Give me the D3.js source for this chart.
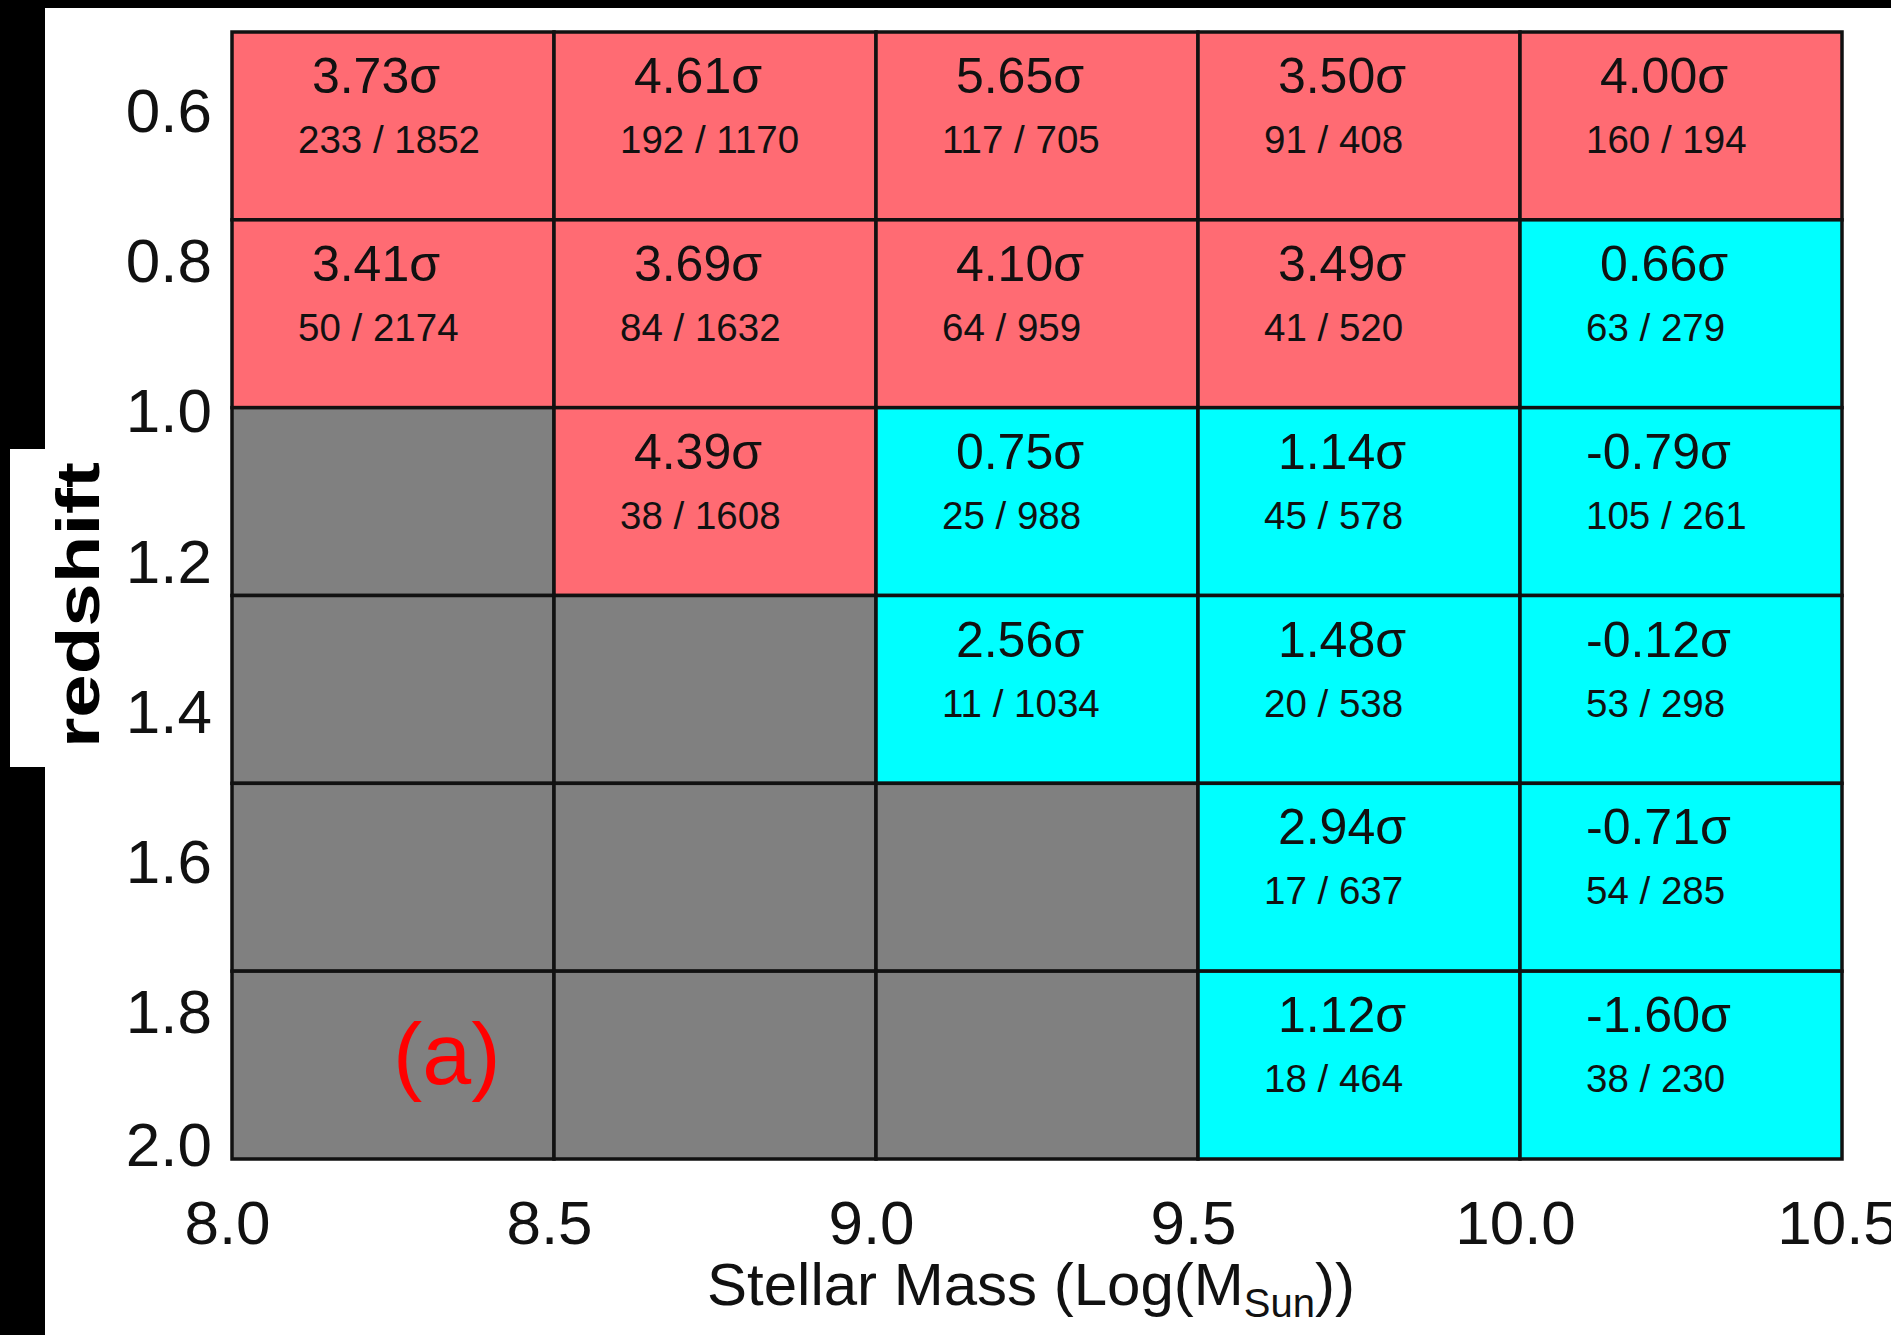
<!DOCTYPE html>
<html>
<head>
<meta charset="utf-8">
<script src="https://cdn.jsdelivr.net/npm/d3@7"></script>
<style>
  html, body { margin: 0; padding: 0; background: #fff; }
  svg { display: block; font-family: "Liberation Sans", Arial, Helvetica, sans-serif; }
</style>
</head>
<body>
<svg id="chart" width="1891" height="1335"></svg>
<script>
// ---- data ----
const massEdges = [8.0, 8.5, 9.0, 9.5, 10.0, 10.5];
const zEdges = [0.5, 0.75, 1.0, 1.25, 1.5, 1.75, 2.0];
const sigma = [
  [3.73, 4.61, 5.65, 3.50, 4.00],
  [3.41, 3.69, 4.10, 3.49, 0.66],
  [null, 4.39, 0.75, 1.14, -0.79],
  [null, null, 2.56, 1.48, -0.12],
  [null, null, null, 2.94, -0.71],
  [null, null, null, 1.12, -1.60]
];
const nSel = [
  [233, 192, 117, 91, 160],
  [50, 84, 64, 41, 63],
  [null, 38, 25, 45, 105],
  [null, null, 11, 20, 53],
  [null, null, null, 17, 54],
  [null, null, null, 18, 38]
];
const nTot = [
  [1852, 1170, 705, 408, 194],
  [2174, 1632, 959, 520, 279],
  [null, 1608, 988, 578, 261],
  [null, null, 1034, 538, 298],
  [null, null, null, 637, 285],
  [null, null, null, 464, 230]
];
const xTicks = [8.0, 8.5, 9.0, 9.5, 10.0, 10.5];
const yTicks = [0.6, 0.8, 1.0, 1.2, 1.4, 1.6, 1.8, 2.0];
const threshold = 3.0;
const panelLabel = "(a)";
const xTitle = "Stellar Mass (Log(M";
const xTitleSub = "Sun";
const xTitleEnd = "))";
const yTitle = "redshift";

// ---- layout ----
const svg = d3.select("#chart");
const W = 1891, H = 1335;
const x = d3.scaleLinear().domain([8.0, 10.5]).range([232, 1842]);
const y = d3.scaleLinear().domain([0.5, 2.0]).range([32, 1159]);

const colors = { hi: "#ff6b73", lo: "#00ffff", none: "#808080" };

// frame background (black bands)
svg.append("rect").attr("x", 0).attr("y", 0).attr("width", W).attr("height", H).attr("fill", "#fff");
svg.append("rect").attr("x", 0).attr("y", 0).attr("width", W).attr("height", 8).attr("fill", "#000");
svg.append("rect").attr("x", 0).attr("y", 0).attr("width", 45).attr("height", H).attr("fill", "#000");
svg.append("rect").attr("x", 10).attr("y", 449).attr("width", 40).attr("height", 318).attr("fill", "#fff");

// cells
const cells = [];
sigma.forEach((row, i) => row.forEach((s, j) => {
  cells.push({ i, j, s, a: nSel[i][j], b: nTot[i][j],
    x0: massEdges[j], x1: massEdges[j + 1], z0: zEdges[i], z1: zEdges[i + 1] });
}));

const g = svg.append("g");
g.selectAll("rect.cell").data(cells).join("rect")
  .attr("class", "cell")
  .attr("x", d => x(d.x0)).attr("y", d => y(d.z0))
  .attr("width", d => x(d.x1) - x(d.x0)).attr("height", d => y(d.z1) - y(d.z0))
  .attr("fill", d => d.s == null ? colors.none : (d.s >= threshold ? colors.hi : colors.lo))
  .attr("stroke", "#111").attr("stroke-width", 3.5);

const fmt = d3.format(".2f");
const filled = cells.filter(d => d.s != null);
g.selectAll("text.sig").data(filled).join("text")
  .attr("class", "sig")
  .attr("x", d => x(d.x0) + 66)
  .attr("y", d => y(d.z0) + 61)
  .attr("font-size", 50)
  .attr("fill", "#111")
  .style("white-space", "pre")
  .text(d => (d.s < 0 ? "-" + fmt(-d.s) : " " + fmt(d.s)) + "\u03c3");

g.selectAll("text.cnt").data(filled).join("text")
  .attr("class", "cnt")
  .attr("x", d => x(d.x0) + 66)
  .attr("y", d => y(d.z0) + 121)
  .attr("font-size", 38.5)
  .attr("fill", "#111")
  .text(d => d.a + " / " + d.b);

// panel label
svg.append("text")
  .attr("x", x(8.25)).attr("y", y(1.9))
  .attr("font-size", 88).attr("fill", "#ff0000")
  .text(panelLabel);

// axes
const yAxis = svg.append("g").attr("transform", `translate(${x(8.0)},0)`)
  .call(d3.axisLeft(y).tickValues(yTicks).tickFormat(d3.format(".1f")).tickSize(0).tickPadding(20));
yAxis.select(".domain").remove();
yAxis.selectAll("text")
  .attr("font-size", 62).attr("fill", "#111").attr("font-family", "Liberation Sans, Arial, sans-serif")
  .attr("dy", (d, k) => k === yTicks.length - 1 ? "0.1em" : "0.39em");

const xAxis = svg.append("g").attr("transform", `translate(0,${y(2.0)})`)
  .call(d3.axisBottom(x).tickValues(xTicks).tickFormat(d3.format(".1f")).tickSize(0).tickPadding(41));
xAxis.select(".domain").remove();
xAxis.selectAll("text")
  .attr("font-size", 62).attr("fill", "#111").attr("font-family", "Liberation Sans, Arial, sans-serif")
  .attr("dx", -5);

// x title
const xt = svg.append("text")
  .attr("x", (x(8.0) + x(10.5)) / 2 - 6).attr("y", 1305)
  .attr("text-anchor", "middle").attr("font-size", 60).attr("fill", "#111");
xt.append("tspan").text(xTitle);
xt.append("tspan").attr("font-size", 40).attr("dy", 12).text(xTitleSub);
xt.append("tspan").attr("dy", -12).text(xTitleEnd);

// y title
svg.append("text")
  .attr("transform", `translate(99,${(462 + 748) / 2}) rotate(-90)`)
  .attr("text-anchor", "middle")
  .attr("font-size", 62).attr("font-weight", "bold").attr("fill", "#000")
  .attr("textLength", 286).attr("lengthAdjust", "spacingAndGlyphs")
  .text(yTitle);
</script>
</body>
</html>
